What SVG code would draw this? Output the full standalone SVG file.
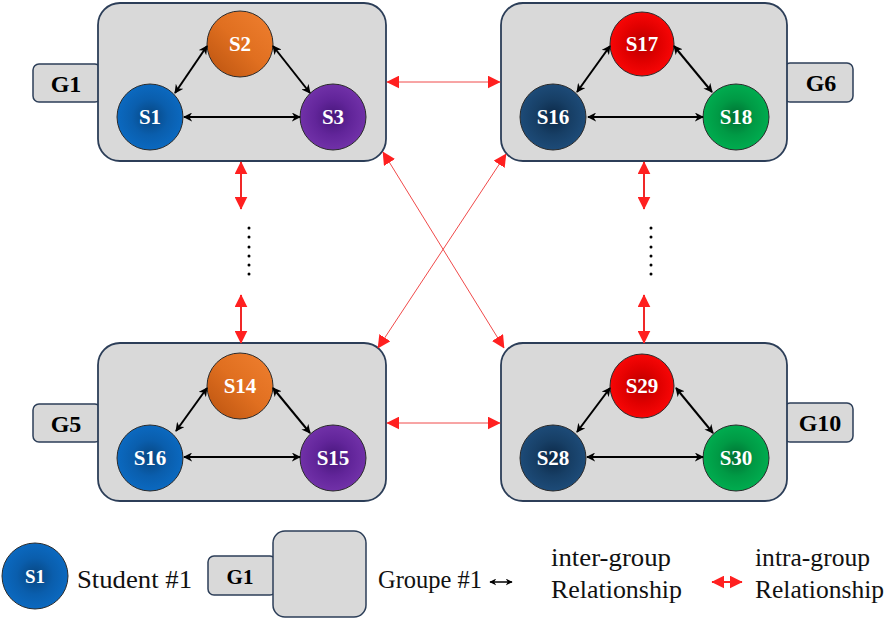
<svg xmlns="http://www.w3.org/2000/svg" width="886" height="620" viewBox="0 0 886 620">
  <style>
    .box { fill: #d9d9d9; stroke: #2c3e58; stroke-width: 1.8; }
    .tab { fill: #d9d9d9; stroke: #2c3e58; stroke-width: 1.5; }
    .node { stroke: #2b2b2b; stroke-width: 1; }
    text { font-family: 'Liberation Serif', 'DejaVu Serif', 'Noto Serif', Tinos, FreeSerif, 'Nimbus Roman', Times, serif; }
    .glabel { font-weight: bold; font-size: 24px; fill: #000; text-anchor: middle; }
    .slabel { font-weight: bold; font-size: 21px; fill: #fff; text-anchor: middle; }
    .legend { font-size: 25px; fill: #111; }
    .inner { stroke: #000; stroke-width: 2; fill: none; marker-start: url(#blackHead); marker-end: url(#blackHead); }
    .outer { stroke: #f02828; stroke-width: 2; fill: none; marker-start: url(#redHead); marker-end: url(#redHead); }
    .cross { stroke: #f04a4a; stroke-width: 1; fill: none; marker-start: url(#redHead); marker-end: url(#redHead); }
    .dot { fill: #000; }
  </style>
  <defs>
    <marker id="blackHead" viewBox="0 0 10 10" refX="9" refY="5" markerWidth="9" markerHeight="9" markerUnits="userSpaceOnUse" orient="auto-start-reverse">
      <path d="M0,0 L10,5 L0,10 L3,5 Z" fill="#000"/>
    </marker>
    <marker id="redHead" viewBox="0 0 10 10" refX="9.5" refY="5" markerWidth="13" markerHeight="13" markerUnits="userSpaceOnUse" orient="auto-start-reverse">
      <path d="M0,0 L10,5 L0,10 Z" fill="#ff2020"/>
    </marker>
    <marker id="smallBlack" viewBox="0 0 10 10" refX="9" refY="5" markerWidth="7" markerHeight="7" markerUnits="userSpaceOnUse" orient="auto-start-reverse">
      <path d="M0,0 L10,5 L0,10 L3,5 Z" fill="#000"/>
    </marker>
    <radialGradient id="blue" cx="0.5" cy="0.5" r="0.5">
      <stop offset="0" stop-color="#07457f"/>
      <stop offset="0.55" stop-color="#0a5ead"/>
      <stop offset="1" stop-color="#0b69c0"/>
    </radialGradient>
    <radialGradient id="purple" cx="0.5" cy="0.5" r="0.5">
      <stop offset="0" stop-color="#46167a"/>
      <stop offset="0.55" stop-color="#62259a"/>
      <stop offset="1" stop-color="#7131a8"/>
    </radialGradient>
    <linearGradient id="orange" x1="1" y1="0" x2="0" y2="1">
      <stop offset="0" stop-color="#f08030"/>
      <stop offset="0.5" stop-color="#e06f20"/>
      <stop offset="1" stop-color="#b9520f"/>
    </linearGradient>
    <radialGradient id="red" cx="0.5" cy="0.5" r="0.5">
      <stop offset="0" stop-color="#b80000"/>
      <stop offset="0.55" stop-color="#e00000"/>
      <stop offset="1" stop-color="#f80606"/>
    </radialGradient>
    <radialGradient id="navy" cx="0.5" cy="0.5" r="0.5">
      <stop offset="0" stop-color="#0b2745"/>
      <stop offset="0.55" stop-color="#173f66"/>
      <stop offset="1" stop-color="#1d4b78"/>
    </radialGradient>
    <radialGradient id="green" cx="0.5" cy="0.5" r="0.5">
      <stop offset="0" stop-color="#006f32"/>
      <stop offset="0.55" stop-color="#009a45"/>
      <stop offset="1" stop-color="#00ac4f"/>
    </radialGradient>
  </defs>

  <!-- Group G1 -->
  <g id="group-g1">
    <rect class="tab" x="33" y="64" width="68" height="38" rx="6"/>
    <text class="glabel" x="66" y="92">G1</text>
    <rect class="box" x="98" y="3" width="288" height="158" rx="22"/>
    <g id="g1-s2"><circle class="node" cx="240" cy="44" r="33" fill="url(#orange)"/><text class="slabel" x="240" y="51">S2</text></g>
    <g id="g1-s1"><circle class="node" cx="150" cy="117" r="33" fill="url(#blue)"/><text class="slabel" x="150" y="124">S1</text></g>
    <g id="g1-s3"><circle class="node" cx="333" cy="117" r="33" fill="url(#purple)"/><text class="slabel" x="333" y="124">S3</text></g>
  </g>

  <!-- Group G6 -->
  <g id="group-g6">
    <rect class="tab" x="784" y="63" width="69" height="39" rx="6"/>
    <text class="glabel" x="821" y="91">G6</text>
    <rect class="box" x="501" y="3" width="286" height="158" rx="22"/>
    <g id="g6-s17"><circle class="node" cx="642" cy="44" r="32" fill="url(#red)"/><text class="slabel" x="642" y="51">S17</text></g>
    <g id="g6-s16"><circle class="node" cx="553" cy="117" r="33" fill="url(#navy)"/><text class="slabel" x="553" y="124">S16</text></g>
    <g id="g6-s18"><circle class="node" cx="736" cy="117" r="33" fill="url(#green)"/><text class="slabel" x="736" y="124">S18</text></g>
  </g>

  <!-- Group G5 -->
  <g id="group-g5">
    <rect class="tab" x="33" y="404" width="68" height="38" rx="6"/>
    <text class="glabel" x="66" y="432">G5</text>
    <rect class="box" x="98" y="343" width="288" height="158" rx="22"/>
    <g id="g5-s14"><circle class="node" cx="240" cy="386" r="33" fill="url(#orange)"/><text class="slabel" x="240" y="393">S14</text></g>
    <g id="g5-s16"><circle class="node" cx="150" cy="458" r="33" fill="url(#blue)"/><text class="slabel" x="150" y="465">S16</text></g>
    <g id="g5-s15"><circle class="node" cx="333" cy="458" r="33" fill="url(#purple)"/><text class="slabel" x="333" y="465">S15</text></g>
  </g>

  <!-- Group G10 -->
  <g id="group-g10">
    <rect class="tab" x="784" y="403" width="69" height="39" rx="6"/>
    <text class="glabel" x="820" y="431">G10</text>
    <rect class="box" x="501" y="343" width="286" height="158" rx="22"/>
    <g id="g10-s29"><circle class="node" cx="642" cy="386" r="32" fill="url(#red)"/><text class="slabel" x="642" y="393">S29</text></g>
    <g id="g10-s28"><circle class="node" cx="553" cy="458" r="33" fill="url(#navy)"/><text class="slabel" x="553" y="465">S28</text></g>
    <g id="g10-s30"><circle class="node" cx="736" cy="458" r="33" fill="url(#green)"/><text class="slabel" x="736" y="465">S30</text></g>
  </g>

  <!-- Connectors -->
  <g id="connectors">
    <!-- relations inside each group -->
    <line class="inner" x1="175" y1="93" x2="207" y2="46"/>
    <line class="inner" x1="273" y1="46" x2="310" y2="93"/>
    <line class="inner" x1="184" y1="117" x2="300" y2="117"/>

    <line class="inner" x1="577" y1="92" x2="610" y2="46"/>
    <line class="inner" x1="674" y1="46" x2="712" y2="92"/>
    <line class="inner" x1="588" y1="117" x2="703" y2="117"/>

    <line class="inner" x1="176" y1="431" x2="207" y2="388"/>
    <line class="inner" x1="273" y1="388" x2="310" y2="433"/>
    <line class="inner" x1="184" y1="457" x2="300" y2="457"/>

    <line class="inner" x1="577" y1="432" x2="610" y2="388"/>
    <line class="inner" x1="676" y1="388" x2="713" y2="433"/>
    <line class="inner" x1="587" y1="457" x2="703" y2="457"/>

    <!-- relations between groups -->
    <line class="cross" x1="387" y1="82" x2="500" y2="82"/>
    <line class="cross" x1="387" y1="423" x2="500" y2="423"/>
    <line class="outer" x1="241" y1="162" x2="241" y2="209"/>
    <line class="outer" x1="241" y1="295" x2="241" y2="343"/>
    <line class="outer" x1="644" y1="162" x2="644" y2="209"/>
    <line class="outer" x1="644" y1="295" x2="644" y2="343"/>
    <line class="cross" x1="383" y1="152" x2="504" y2="348"/>
    <line class="cross" x1="506" y1="154" x2="378" y2="348"/>

    <!-- ellipsis dots -->
    <g id="dots-left">
      <circle class="dot" cx="249" cy="228" r="1.5"/><circle class="dot" cx="249" cy="237" r="1.5"/>
      <circle class="dot" cx="249" cy="247" r="1.5"/><circle class="dot" cx="249" cy="256" r="1.5"/>
      <circle class="dot" cx="249" cy="265" r="1.5"/><circle class="dot" cx="249" cy="274" r="1.5"/>
    </g>
    <g id="dots-right">
      <circle class="dot" cx="651" cy="228" r="1.5"/><circle class="dot" cx="651" cy="237" r="1.5"/>
      <circle class="dot" cx="651" cy="247" r="1.5"/><circle class="dot" cx="651" cy="256" r="1.5"/>
      <circle class="dot" cx="651" cy="265" r="1.5"/><circle class="dot" cx="651" cy="274" r="1.5"/>
    </g>
  </g>

  <!-- Legend -->
  <g id="legend">
    <g id="legend-student">
      <circle class="node" cx="35" cy="576" r="33" fill="url(#blue)"/>
      <text class="slabel" x="35" y="583" style="font-size:19px">S1</text>
      <text class="legend" x="77" y="588" textLength="115" lengthAdjust="spacingAndGlyphs">Student #1</text>
    </g>
    <g id="legend-group">
      <rect class="tab" x="208" y="556" width="68" height="39" rx="6"/>
      <text class="glabel" x="240" y="584" style="font-size:21px">G1</text>
      <rect class="tab" x="273" y="531" width="93" height="86" rx="12"/>
      <text class="legend" x="378" y="588" textLength="104" lengthAdjust="spacingAndGlyphs">Groupe #1</text>
    </g>
    <g id="legend-inter">
      <line x1="490" y1="582" x2="512" y2="582" stroke="#000" stroke-width="1.5" marker-start="url(#smallBlack)" marker-end="url(#smallBlack)"/>
      <text class="legend" x="551" y="566" textLength="120" lengthAdjust="spacingAndGlyphs">inter-group</text>
      <text class="legend" x="551" y="598" textLength="131" lengthAdjust="spacingAndGlyphs">Relationship</text>
    </g>
    <g id="legend-intra">
      <line x1="712" y1="582" x2="742" y2="582" stroke="#ff2020" stroke-width="2" marker-start="url(#redHead)" marker-end="url(#redHead)"/>
      <text class="legend" x="755" y="566" textLength="115" lengthAdjust="spacingAndGlyphs">intra-group</text>
      <text class="legend" x="755" y="598" textLength="129" lengthAdjust="spacingAndGlyphs">Relationship</text>
    </g>
  </g>
</svg>
